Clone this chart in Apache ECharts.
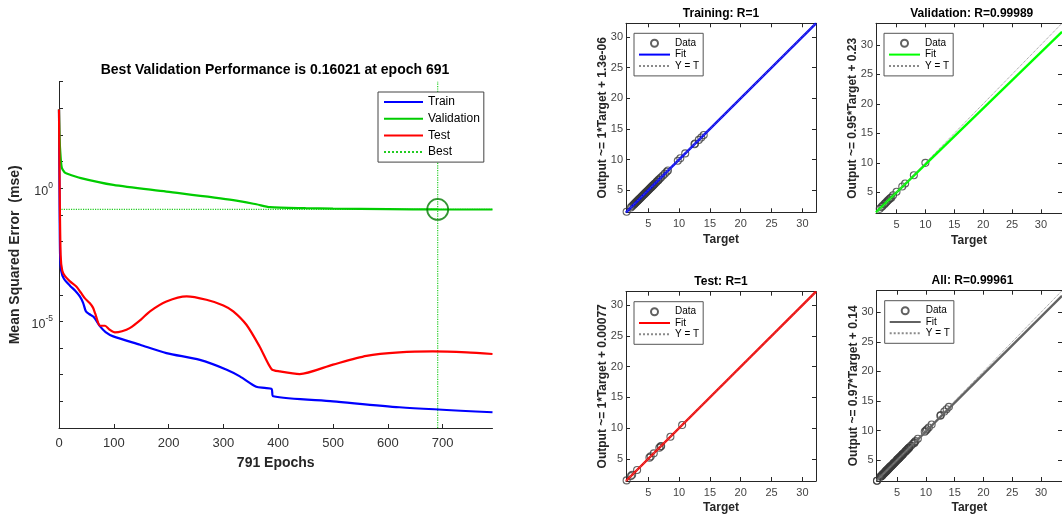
<!DOCTYPE html>
<html>
<head>
<meta charset="utf-8">
<script src="https://cdn.jsdelivr.net/npm/echarts@6/dist/echarts.min.js"></script>
<style>
  html, body { margin: 0; padding: 0; background: #fff; }
  #chart { width: 1062px; height: 517px; }
</style>
</head>
<body>
<div id="chart"></div>
<script>
// ---- Training performance (mean squared error per epoch) ----
const trainEpochs = [0, 1, 2, 4, 9, 20, 30, 38, 44, 49, 55, 63, 75, 85, 99, 148, 196, 257, 306, 330, 360, 375, 388, 391, 500, 621, 791];
const trainMse = [900, 0.3, 3e-3, 8e-4, 4e-4, 2.2e-4, 1.4e-4, 8.7e-5, 5e-5, 2.4e-5, 1.9e-5, 1.5e-5, 6.5e-6, 4e-6, 2.75e-6, 1.33e-6, 6.5e-7, 3.6e-7, 1.55e-7, 8.7e-8, 3.5e-8, 3.2e-8, 2.9e-8, 1.55e-8, 1e-8, 6e-9, 3.9e-9];

const valEpochs = [0, 1, 2, 5, 10, 14, 40, 99, 196, 318, 360, 385, 450, 500, 600, 691, 791];
const valMse = [900, 100, 30, 6, 4, 3.6, 2.4, 1.33, 0.75, 0.36, 0.25, 0.195, 0.178, 0.172, 0.165, 0.16021, 0.1595];

const testEpochs = [0, 1, 3, 6, 11, 20, 32, 40, 47, 56, 62, 66, 75, 84, 92, 102, 115, 129, 150, 166, 196, 233, 269, 300, 318, 342, 366, 388, 403, 439, 500, 561, 621, 682, 744, 791];
const testMse = [900, 3, 3e-3, 8e-4, 5e-4, 3.2e-4, 2e-4, 1.2e-4, 7.5e-5, 4.9e-5, 3.3e-5, 2e-5, 6.9e-6, 6.9e-6, 5e-6, 3.9e-6, 4.3e-6, 5.6e-6, 1.2e-5, 2.4e-5, 5.6e-5, 8.7e-5, 6.5e-5, 4e-5, 2.4e-5, 7.5e-6, 1.15e-6, 1.6e-7, 1.33e-7, 1.06e-7, 2.4e-7, 5.1e-7, 6.9e-7, 7.5e-7, 6.9e-7, 6e-7];

const totalEpochs = 791;
const bestEpoch = 691;
const bestPerf = 0.16021;
const epochTicks = [0, 100, 200, 300, 400, 500, 600, 700];

// ---- Regression data (target vs. network output) ----
const trainTarget = [1.5, 2.2, 2.4, 2.6, 2.7, 2.8, 2.9, 3.0, 3.1, 3.2, 3.3, 3.4, 3.5, 3.6, 3.7, 3.8, 3.9, 4.0, 4.1, 4.2, 4.3, 4.4, 4.5, 4.6, 4.7, 4.8, 4.9, 5.0, 5.1, 5.2, 5.3, 5.4, 5.5, 5.6, 5.7, 5.8, 5.9, 6.0, 6.1, 6.3, 6.4, 6.6, 6.7, 6.9, 7.1, 7.4, 7.7, 8.0, 8.2, 9.8, 10.2, 11.0, 12.5, 12.6, 13.2, 13.6, 14.0];
const trainOutput = [1.5, 2.2, 2.4, 2.6, 2.7, 2.8, 2.9, 3.0, 3.1, 3.2, 3.3, 3.4, 3.5, 3.6, 3.7, 3.8, 3.9, 4.0, 4.1, 4.2, 4.3, 4.4, 4.5, 4.6, 4.7, 4.8, 4.9, 5.0, 5.1, 5.2, 5.3, 5.4, 5.5, 5.6, 5.7, 5.8, 5.9, 6.0, 6.1, 6.3, 6.4, 6.6, 6.7, 6.9, 7.1, 7.4, 7.7, 8.0, 8.2, 9.8, 10.2, 11.0, 12.5, 12.6, 13.2, 13.6, 14.0];

const valTarget = [2.1, 2.4, 2.6, 2.9, 3.1, 3.3, 3.5, 3.7, 3.9, 4.1, 4.4, 5.0, 6.0, 6.5, 8.0, 10.0];
const valOutput = [2.2, 2.5, 2.7, 3.0, 3.2, 3.4, 3.6, 3.8, 4.0, 4.1, 4.5, 5.1, 6.0, 6.5, 7.9, 10.0];

const testTarget = [1.5, 2.2, 2.4, 3.2, 5.2, 5.4, 5.9, 6.8, 7.0, 7.1, 8.6, 10.5];
const testOutput = [1.5, 2.2, 2.4, 3.2, 5.2, 5.4, 5.9, 6.8, 7.0, 7.1, 8.6, 10.5];

const allTarget = trainTarget.concat(valTarget, testTarget);
const allOutput = trainOutput.concat(valOutput, testOutput);

const regNames = ['Training', 'Validation', 'Test', 'All'];
const regR = ['1', '0.99989', '1', '0.99961'];
const fitSlope = [1, 0.95, 1, 0.97];
const fitIntercept = [1.3e-6, 0.23, 0.00077, 0.14];
const fitLabels = ['Output ~= 1*Target + 1.3e-06', 'Output ~= 0.95*Target + 0.23', 'Output ~= 1*Target + 0.00077', 'Output ~= 0.97*Target + 0.14'];
const regRange = [[1.4, 32.2], [1.45, 33.65], [1.4, 32.2], [1.45, 33.65]];
const regTicks = [5, 10, 15, 20, 25, 30];
const regTargets = [trainTarget, valTarget, testTarget, allTarget];
const regOutputs = [trainOutput, valOutput, testOutput, allOutput];

// ---- Layout and styling ----
const FONT = '"Liberation Sans", Arial, Helvetica, sans-serif';
const AXIS = '#262626';
const BEST_GREEN = '#22cc22';
const perfGrid = { left: 59, top: 81.7, width: 433.5, height: 346.3 };
const regGrids = [
  { left: 626, top: 23.3, width: 190, height: 189 },
  { left: 876, top: 23.3, width: 191.5, height: 190 },
  { left: 626, top: 291.7, width: 190, height: 189.3 },
  { left: 876.7, top: 290.7, width: 191.5, height: 190.3 }
];
const fitColors = ['#0000ff', '#00ff00', '#ff0000', '#626262'];
// legend entries drawn as a plain line sample (no marker)
const lineOnly = name => ({ name, itemStyle: { opacity: 0 } });

const zip = (xs, ys) => xs.map((x, i) => [x, ys[i]]);

const grids = [perfGrid].concat(regGrids);
const xAxes = [];
const yAxes = [];
const series = [];
const legends = [];
const graphics = [];

// Performance plot axes
xAxes.push({
  gridIndex: 0, type: 'value', min: 0, max: totalEpochs,
  axisLine: { show: true, onZero: false, lineStyle: { color: AXIS, width: 1 } },
  axisTick: { show: true, inside: true, length: 4, customValues: epochTicks, lineStyle: { color: AXIS } },
  axisLabel: { customValues: epochTicks, color: '#333', fontSize: 13, fontFamily: FONT, margin: 9 },
  splitLine: { show: false },
  name: totalEpochs + ' Epochs', nameLocation: 'middle', nameGap: 28, nameMoveOverlap: false,
  nameTextStyle: { fontWeight: 'bold', fontSize: 14, color: '#262626', fontFamily: FONT }
});
yAxes.push({
  gridIndex: 0, type: 'log', logBase: 10, min: 1e-9, max: 1e4, interval: 1, splitNumber: 13,
  axisLine: { show: true, onZero: false, lineStyle: { color: AXIS, width: 1 } },
  axisTick: { show: true, inside: true, length: 4, lineStyle: { color: AXIS } },
  axisLabel: {
    margin: 6, fontFamily: FONT,
    formatter: v => {
      const e = Math.round(Math.log10(v));
      if (e === 0 || e === -5) return '{b|10}{s|' + e + '}';
      return '';
    },
    rich: {
      b: { fontSize: 12.5, color: '#333', fontFamily: FONT, padding: [6, 0, 0, 0] },
      s: { fontSize: 8.5, color: '#333', fontFamily: FONT, padding: [0, 0, 6, 0] }
    }
  },
  splitLine: { show: false },
  name: 'Mean Squared Error  (mse)', nameLocation: 'middle', nameGap: 37, nameRotate: 90, nameMoveOverlap: false,
  nameTextStyle: { fontWeight: 'bold', fontSize: 14, color: '#262626', fontFamily: FONT }
});

// Performance curves
series.push({
  name: 'Best', type: 'line', xAxisIndex: 0, yAxisIndex: 0, symbol: 'none', silent: true,
  data: [[bestEpoch, 1e-9], [bestEpoch, 1e4]],
  lineStyle: { color: BEST_GREEN, width: 1.2, type: 'dotted' }, itemStyle: { color: BEST_GREEN }, z: 1
});
series.push({
  name: 'Best', type: 'line', xAxisIndex: 0, yAxisIndex: 0, symbol: 'none', silent: true,
  data: [[0, bestPerf], [totalEpochs, bestPerf]],
  lineStyle: { color: BEST_GREEN, width: 1.2, type: 'dotted' }, itemStyle: { color: BEST_GREEN }, z: 1
});
series.push({
  name: 'Train', type: 'line', xAxisIndex: 0, yAxisIndex: 0, symbol: 'none', smooth: 0.25,
  data: zip(trainEpochs, trainMse), lineStyle: { color: '#0000ff', width: 2.2 }, itemStyle: { color: '#0000ff' }, z: 2
});
series.push({
  name: 'Validation', type: 'line', xAxisIndex: 0, yAxisIndex: 0, symbol: 'none', smooth: 0.25,
  data: zip(valEpochs, valMse), lineStyle: { color: '#00cc00', width: 2.2 }, itemStyle: { color: '#00cc00' }, z: 3
});
series.push({
  name: 'Test', type: 'line', xAxisIndex: 0, yAxisIndex: 0, symbol: 'none', smooth: 0.25,
  data: zip(testEpochs, testMse), lineStyle: { color: '#ff0000', width: 2.2 }, itemStyle: { color: '#ff0000' }, z: 4
});
series.push({
  name: 'Best point', type: 'scatter', xAxisIndex: 0, yAxisIndex: 0, symbol: 'circle', symbolSize: 21,
  data: [[bestEpoch, bestPerf]],
  itemStyle: { color: 'rgba(0,0,0,0)', borderColor: '#007a00', borderWidth: 1.8 }, z: 5
});

legends.push({
  show: true, selectedMode: false, orient: 'vertical', left: 378, top: 92,
  padding: [4, 4, 4, 5], itemWidth: 39, itemHeight: 12, itemGap: 4.7,
  backgroundColor: '#fff', borderColor: '#444', borderWidth: 1, borderRadius: 0,
  textStyle: { fontSize: 12, color: '#000', fontFamily: FONT },
  data: ['Train', 'Validation', 'Test', 'Best'].map(lineOnly)
});

graphics.push({
  type: 'text', x: 275, y: 70, silent: true,
  style: {
    text: 'Best Validation Performance is ' + bestPerf + ' at epoch ' + bestEpoch,
    textAlign: 'center', textVerticalAlign: 'middle',
    font: 'bold 14px ' + FONT, fill: '#000'
  }
});

// Regression panels
regNames.forEach((nm, i) => {
  const g = i + 1;
  const [lo, hi] = regRange[i];
  const xb = xAxes.length, yl = yAxes.length;
  const lineStyle = { color: AXIS, width: 1 };
  const tickCommon = { show: true, inside: true, length: 4, customValues: regTicks, lineStyle: { color: AXIS } };
  xAxes.push({
    gridIndex: g, type: 'value', min: lo, max: hi, position: 'bottom',
    axisLine: { show: true, onZero: false, lineStyle },
    axisTick: tickCommon,
    axisLabel: { customValues: regTicks, color: '#444', fontSize: 11, fontFamily: FONT, margin: 6 },
    splitLine: { show: false },
    name: 'Target', nameLocation: 'middle', nameGap: 21, nameMoveOverlap: false,
    nameTextStyle: { fontWeight: 'bold', fontSize: 12, color: '#262626', fontFamily: FONT }
  });
  xAxes.push({
    gridIndex: g, type: 'value', min: lo, max: hi, position: 'top',
    axisLine: { show: true, onZero: false, lineStyle },
    axisTick: tickCommon, axisLabel: { show: false }, splitLine: { show: false }
  });
  yAxes.push({
    gridIndex: g, type: 'value', min: lo, max: hi, position: 'left',
    axisLine: { show: true, onZero: false, lineStyle },
    axisTick: tickCommon,
    axisLabel: { customValues: regTicks, color: '#444', fontSize: 11, fontFamily: FONT, margin: 3 },
    splitLine: { show: false },
    name: fitLabels[i], nameLocation: 'middle', nameGap: 17, nameRotate: 90, nameMoveOverlap: false,
    nameTextStyle: { fontWeight: 'bold', fontSize: 12, color: '#262626', fontFamily: FONT }
  });
  yAxes.push({
    gridIndex: g, type: 'value', min: lo, max: hi, position: 'right',
    axisLine: { show: true, onZero: false, lineStyle },
    axisTick: tickCommon, axisLabel: { show: false }, splitLine: { show: false }
  });

  const key = nm + '|';
  series.push({
    name: key + 'Data', type: 'scatter', xAxisIndex: xb, yAxisIndex: yl,
    symbol: 'circle', symbolSize: 7,
    data: zip(regTargets[i], regOutputs[i]),
    itemStyle: { color: 'rgba(0,0,0,0)', borderColor: '#3a3a3a', borderWidth: 1.1 }, z: 2
  });
  series.push({
    name: key + 'Fit', type: 'line', xAxisIndex: xb, yAxisIndex: yl, symbol: 'none',
    data: [[lo, fitSlope[i] * lo + fitIntercept[i]], [hi, fitSlope[i] * hi + fitIntercept[i]]],
    lineStyle: { color: fitColors[i], width: 2.4 }, itemStyle: { color: fitColors[i] }, z: 3
  });
  series.push({
    name: key + 'Y = T', type: 'line', xAxisIndex: xb, yAxisIndex: yl, symbol: 'none',
    data: [[lo, lo], [hi, hi]],
    lineStyle: { color: '#8a8a8a', width: 1, type: 'dotted' }, itemStyle: { color: '#8a8a8a' }, z: 4
  });

  const gr = regGrids[i];
  legends.push({
    show: true, selectedMode: false, orient: 'vertical',
    left: gr.left + 8, top: gr.top + 10,
    padding: [5, 4, 5, 4], itemWidth: 31, itemHeight: 7, itemGap: 1.3,
    backgroundColor: '#fff', borderColor: '#555', borderWidth: 1, borderRadius: 0,
    textStyle: { fontSize: 10, color: '#000', fontFamily: FONT },
    formatter: n => n.split('|')[1],
    data: [key + 'Data', lineOnly(key + 'Fit'), lineOnly(key + 'Y = T')]
  });

  graphics.push({
    type: 'text', x: gr.left + gr.width / 2, y: gr.top - 10, silent: true,
    style: {
      text: nm + ': R=' + regR[i],
      textAlign: 'center', textVerticalAlign: 'middle',
      font: 'bold 12px ' + FONT, fill: '#000'
    }
  });
});

const chart = echarts.init(document.getElementById('chart'), null, { renderer: 'canvas' });
chart.setOption({
  animation: false,
  backgroundColor: '#fff',
  grid: grids,
  xAxis: xAxes,
  yAxis: yAxes,
  legend: legends,
  series: series,
  graphic: graphics
});
</script>
</body>
</html>
